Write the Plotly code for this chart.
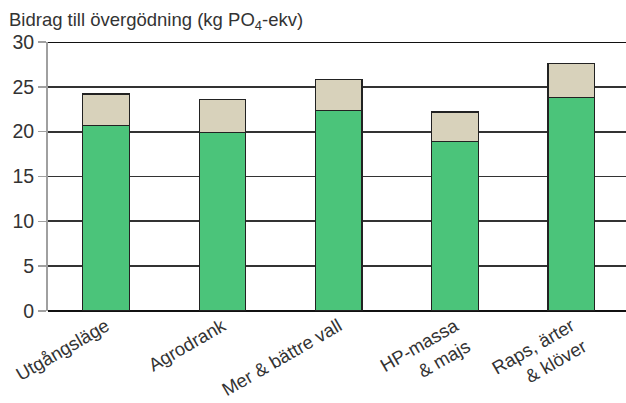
import plotly.graph_objects as go

categories = ["Utgångsläge", "Agrodrank", "Mer & bättre vall", "HP-massa<br>& majs", "Raps, ärter<br>& klöver"]
green_values = [20.7, 19.9, 22.4, 18.9, 23.8]
beige_values = [3.5, 3.7, 3.4, 3.3, 3.8]
y_ticks = [0, 5, 10, 15, 20, 25, 30]

fig = go.Figure()
fig.add_trace(go.Bar(x=categories, y=green_values, width=0.4,
                     marker=dict(color="#4BC47A", line=dict(color="#222222", width=1.2))))
fig.add_trace(go.Bar(x=categories, y=beige_values, width=0.4,
                     marker=dict(color="#D8D2BB", line=dict(color="#222222", width=1.2))))

fig.update_layout(
    barmode="stack",
    width=626, height=403,
    margin=dict(l=48, r=0, t=42, b=92),
    paper_bgcolor="white", plot_bgcolor="white",
    showlegend=False,
    font=dict(family="Liberation Sans, Arial, sans-serif", color="#333333"),
    xaxis=dict(range=[-0.5, 4.47], tickangle=-30, tickfont=dict(size=18.5, color="#333333"),
               showgrid=False, ticks="", showline=False, automargin=False),
    yaxis=dict(range=[0, 30], tickvals=y_ticks, tickfont=dict(size=19.5, color="#333333"),
               showgrid=True, gridcolor="#333333", gridwidth=1.8,
               zeroline=True, zerolinecolor="#111111", zerolinewidth=2.2,
               showline=True, linecolor="#A0A0A0", linewidth=2,
               ticks="outside", ticklen=8, tickcolor="#A0A0A0", tickwidth=1.5,
               automargin=False),
    annotations=[dict(text="Bidrag till övergödning (kg PO<sub>4</sub>-ekv)", x=0, y=1,
                      xref="paper", yref="paper", xanchor="left", yanchor="bottom",
                      xshift=-41, yshift=7, showarrow=False,
                      font=dict(size=18.5, color="#333333"))],
)
fig.add_shape(type="line", xref="paper", yref="y", x0=0, x1=1, y0=30, y1=30,
              line=dict(color="#111111", width=2))

fig.write_html("out.html", config={"displayModeBar": False, "staticPlot": True},
               post_script="document.body.style.margin='0';document.body.style.overflow='hidden';")
